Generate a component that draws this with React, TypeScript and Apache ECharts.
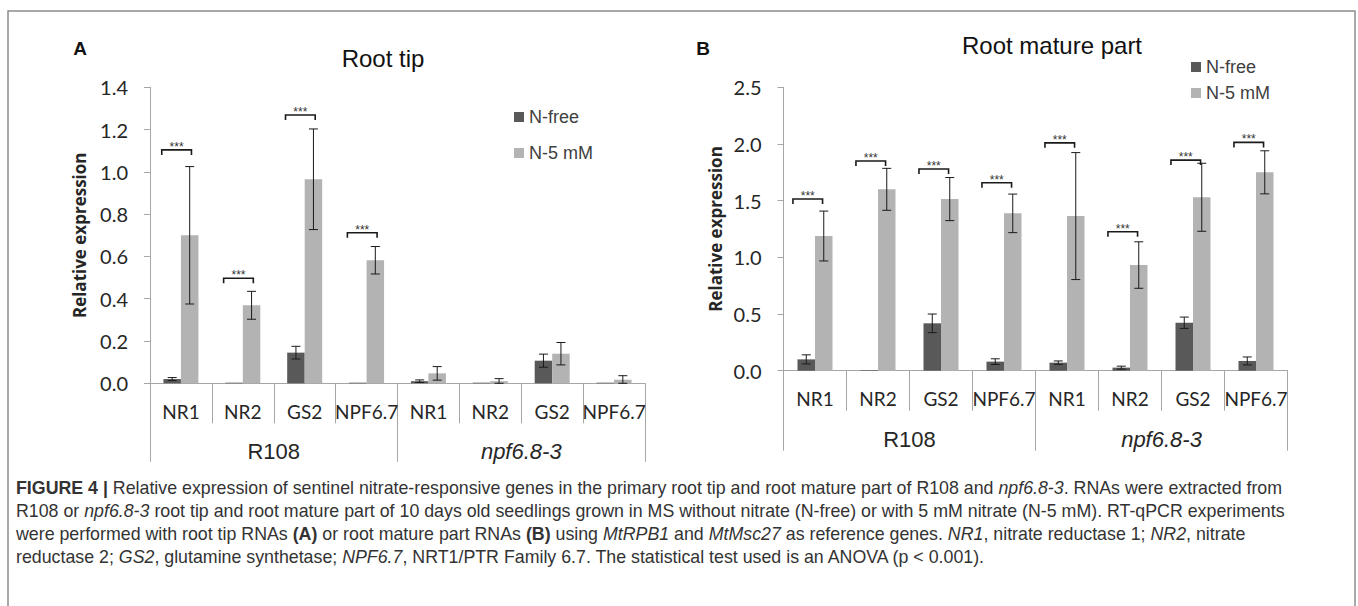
import React, { useEffect, useRef } from "react";
import * as echarts from "echarts";

// ---------- data ----------
const genes = ["NR1", "NR2", "GS2", "NPF6.7", "NR1", "NR2", "GS2", "NPF6.7"];
const genotypes = ["R108", "npf6.8-3"];

// Panel A: root tip
const tipFree = [0.02, 0.003, 0.145, 0.003, 0.01, 0.003, 0.107, 0.003];
const tipFreeErr = [0.007, 0, 0.03, 0, 0.006, 0, 0.031, 0];
const tip5 = [0.7, 0.369, 0.965, 0.582, 0.047, 0.01, 0.14, 0.017];
const tip5Err = [0.325, 0.066, 0.238, 0.065, 0.032, 0.012, 0.053, 0.019];
const tipSigCats = [0, 1, 2, 3];
const tipSigY = [1.104, 0.497, 1.269, 0.712];

// Panel B: root mature part
const matFree = [0.1, 0.005, 0.418, 0.08, 0.071, 0.027, 0.423, 0.086];
const matFreeErr = [0.04, 0, 0.082, 0.025, 0.015, 0.013, 0.05, 0.035];
const mat5 = [1.188, 1.6, 1.514, 1.388, 1.364, 0.932, 1.53, 1.75];
const mat5Err = [0.22, 0.185, 0.19, 0.17, 0.56, 0.205, 0.3, 0.19];
const matSigCats = [0, 1, 2, 3, 4, 5, 6, 7];
const matSigY = [1.514, 1.85, 1.779, 1.658, 2.01, 1.226, 1.858, 2.014];

const tipTicks = { max: 1.4, interval: 0.2 };
const matTicks = { max: 2.5, interval: 0.5 };

const captionLines = [
  "{b|FIGURE 4 |} Relative expression of sentinel nitrate-responsive genes in the primary root tip and root mature part of R108 and {i|npf6.8-3}. RNAs were extracted from",
  "R108 or {i|npf6.8-3} root tip and root mature part of 10 days old seedlings grown in MS without nitrate (N-free) or with 5 mM nitrate (N-5 mM). RT-qPCR experiments",
  "were performed with root tip RNAs {b|(A)} or root mature part RNAs {b|(B)} using {i|MtRPB1} and {i|MtMsc27} as reference genes. {i|NR1}, nitrate reductase 1; {i|NR2}, nitrate",
  "reductase 2; {i|GS2}, glutamine synthetase; {i|NPF6.7}, NRT1/PTR Family 6.7. The statistical test used is an ANOVA (p < 0.001).",
];

// ---------- styles ----------
const DARK = "#595959";
const LIGHT = "#b3b3b3";
const AXIS = "#a6a6a6";
const TXT = "#262626";
const BAR_W = 17.5;
const CAL = "Lato, 'Open Sans', sans-serif";
const ARIAL = "'Liberation Sans', Arial, sans-serif";
const CAP_SIZE = 17.8;

function errorSeries(xi: number, yi: number, vals: number[], errs: number[], side: number) {
  return {
    type: "custom",
    xAxisIndex: xi,
    yAxisIndex: yi,
    silent: true,
    clip: false,
    z: 10,
    encode: { x: 0, y: 1 },
    data: vals.map((v, i) => [i, v, errs[i]]),
    renderItem: (params: any, api: any) => {
      const i = api.value(0);
      const v = api.value(1);
      const e = api.value(2);
      if (!e) return null;
      const hi = api.coord([i, v + e]);
      const lo = api.coord([i, Math.max(0, v - e)]);
      const x = hi[0] + (side * BAR_W) / 2;
      const cap = 4.5;
      const st = { stroke: "#1a1a1a", lineWidth: 1 };
      return {
        type: "group",
        children: [
          { type: "line", shape: { x1: x, y1: hi[1], x2: x, y2: lo[1] }, style: st },
          { type: "line", shape: { x1: x - cap, y1: hi[1], x2: x + cap, y2: hi[1] }, style: st },
          { type: "line", shape: { x1: x - cap, y1: lo[1], x2: x + cap, y2: lo[1] }, style: st },
        ],
      };
    },
  };
}

function sigSeries(xi: number, yi: number, cats: number[], ys: number[], l: number, r: number) {
  return {
    type: "custom",
    xAxisIndex: xi,
    yAxisIndex: yi,
    silent: true,
    clip: false,
    z: 11,
    encode: { x: 0, y: 1 },
    data: cats.map((c, k) => [c, ys[k]]),
    renderItem: (params: any, api: any) => {
      const p = api.coord([api.value(0), api.value(1)]);
      const bw = api.size([1, 0])[0];
      const x1 = p[0] + l * bw;
      const x2 = p[0] + r * bw;
      return {
        type: "group",
        children: [
          {
            type: "polyline",
            shape: { points: [[x1, p[1] + 5], [x1, p[1]], [x2, p[1]], [x2, p[1] + 5]] },
            style: { stroke: "#1a1a1a", lineWidth: 1.6, fill: null },
          },
          {
            type: "text",
            x: (x1 + x2) / 2,
            y: p[1] - 3,
            style: {
              text: "***",
              fontSize: 12,
              fontFamily: ARIAL,
              fill: "#333",
              align: "center",
              verticalAlign: "middle",
            },
          },
        ],
      };
    },
  };
}

function geneAxis(grid: number, margin: number) {
  return {
    type: "category",
    gridIndex: grid,
    data: genes,
    axisLine: { show: true, lineStyle: { color: AXIS, width: 1 } },
    axisTick: { show: true, length: 40, lineStyle: { color: AXIS } },
    axisLabel: { margin, fontSize: 19, fontFamily: CAL, color: TXT, interval: 0 },
    splitLine: { show: false },
  };
}

function groupAxis(grid: number, tick: number, margin: number) {
  return {
    type: "category",
    gridIndex: grid,
    data: genotypes,
    axisLine: { show: false },
    axisTick: { show: true, length: tick, lineStyle: { color: AXIS } },
    axisLabel: {
      margin,
      fontSize: 22,
      fontFamily: ARIAL,
      color: TXT,
      formatter: (v: string) => (v === "npf6.8-3" ? "{i|" + v + "}" : v),
      rich: { i: { fontStyle: "italic", fontSize: 22, fontFamily: ARIAL, color: TXT } },
    },
    splitLine: { show: false },
  };
}

function valueAxis(grid: number, t: { max: number; interval: number }, nameGap: number) {
  return {
    type: "value",
    gridIndex: grid,
    min: 0,
    max: t.max,
    interval: t.interval,
    axisLine: { show: true, lineStyle: { color: AXIS } },
    axisTick: { show: true, length: 6, lineStyle: { color: AXIS } },
    splitLine: { show: false },
    axisLabel: {
      margin: 22,
      fontSize: 20,
      fontFamily: CAL,
      color: TXT,
      formatter: (v: number) => v.toFixed(1),
    },
    name: "Relative expression",
    nameLocation: "middle",
    nameRotate: 90,
    nameGap,
    nameTextStyle: { fontSize: 17, fontWeight: "bold", fontFamily: "'Open Sans', sans-serif", color: TXT },
  };
}

function dummyY(grid: number) {
  return { type: "value", gridIndex: grid, min: 0, max: 1, show: false };
}

export default function App() {
  const ref = useRef<HTMLDivElement>(null);
  useEffect(() => {
    if (!ref.current) return;
    const chart = echarts.init(ref.current, null, { renderer: "svg" });
    const gridA = { left: 150, top: 87.3, width: 495, height: 296 };
    const gridB = { left: 783.5, top: 87.3, width: 504, height: 283.4 };
    const rich = {
      b: { fontWeight: "bold", fontSize: CAP_SIZE, fontFamily: ARIAL, fill: "#333", color: "#333" },
      i: { fontStyle: "italic", fontSize: CAP_SIZE, fontFamily: ARIAL, fill: "#333", color: "#333" },
    };
    const legendBase = {
      orient: "vertical",
      itemWidth: 10,
      itemHeight: 10,
      icon: "rect",
      selectedMode: false,
      data: ["N-free", "N-5 mM"],
      textStyle: { fontSize: 18, fontFamily: ARIAL, color: "#404040" },
    };
    const option: any = {
      animation: false,
      backgroundColor: "#ffffff",
      grid: [gridA, gridA, gridB, gridB],
      xAxis: [geneAxis(0, 19), groupAxis(1, 78.5, 57), geneAxis(2, 18), groupAxis(3, 80, 58)],
      yAxis: [valueAxis(0, tipTicks, 62), dummyY(1), valueAxis(2, matTicks, 60), dummyY(3)],
      legend: [
        { ...legendBase, left: 509, top: 103, itemGap: 18 },
        { ...legendBase, left: 1186, top: 53, itemGap: 8 },
      ],
      series: [
        { type: "bar", name: "N-free", xAxisIndex: 0, yAxisIndex: 0, data: tipFree, barWidth: BAR_W, barGap: "0%", itemStyle: { color: DARK } },
        { type: "bar", name: "N-5 mM", xAxisIndex: 0, yAxisIndex: 0, data: tip5, barWidth: BAR_W, barGap: "0%", itemStyle: { color: LIGHT } },
        errorSeries(0, 0, tipFree, tipFreeErr, -1),
        errorSeries(0, 0, tip5, tip5Err, 1),
        sigSeries(0, 0, tipSigCats, tipSigY, -0.31, 0.17),
        { type: "bar", name: "N-free", xAxisIndex: 2, yAxisIndex: 2, data: matFree, barWidth: BAR_W, barGap: "0%", itemStyle: { color: DARK } },
        { type: "bar", name: "N-5 mM", xAxisIndex: 2, yAxisIndex: 2, data: mat5, barWidth: BAR_W, barGap: "0%", itemStyle: { color: LIGHT } },
        errorSeries(2, 2, matFree, matFreeErr, -1),
        errorSeries(2, 2, mat5, mat5Err, 1),
        sigSeries(2, 2, matSigCats, matSigY, -0.35, 0.12),
      ],
      graphic: [
        {
          type: "rect",
          silent: true,
          shape: { x: 8, y: 11, width: 1347, height: 640 },
          style: { fill: "none", stroke: "#8c8c8c", lineWidth: 1.5 },
        },
        { type: "text", x: 80, y: 48, style: { text: "A", fontSize: 19, fontWeight: "bold", fontFamily: ARIAL, fill: "#111", align: "center", verticalAlign: "middle" } },
        { type: "text", x: 703, y: 48, style: { text: "B", fontSize: 19, fontWeight: "bold", fontFamily: ARIAL, fill: "#111", align: "center", verticalAlign: "middle" } },
        { type: "text", x: 383, y: 58, style: { text: "Root tip", fontSize: 24, fontFamily: ARIAL, fill: "#111", align: "center", verticalAlign: "middle" } },
        { type: "text", x: 1052, y: 45, style: { text: "Root mature part", fontSize: 24, fontFamily: ARIAL, fill: "#111", align: "center", verticalAlign: "middle" } },
        ...captionLines.map((t, k) => ({
          type: "text",
          x: 16,
          y: 488 + k * 23,
          style: {
            text: t,
            fontSize: CAP_SIZE,
            fontFamily: ARIAL,
            fill: "#333",
            align: "left",
            verticalAlign: "middle",
            rich,
          },
        })),
      ],
    };
    chart.setOption(option);
    return () => chart.dispose();
  }, []);
  return (
    <div
      ref={ref}
      style={{ position: "absolute", left: 0, top: 0, width: 1358, height: 606, background: "#fff" }}
    />
  );
}
